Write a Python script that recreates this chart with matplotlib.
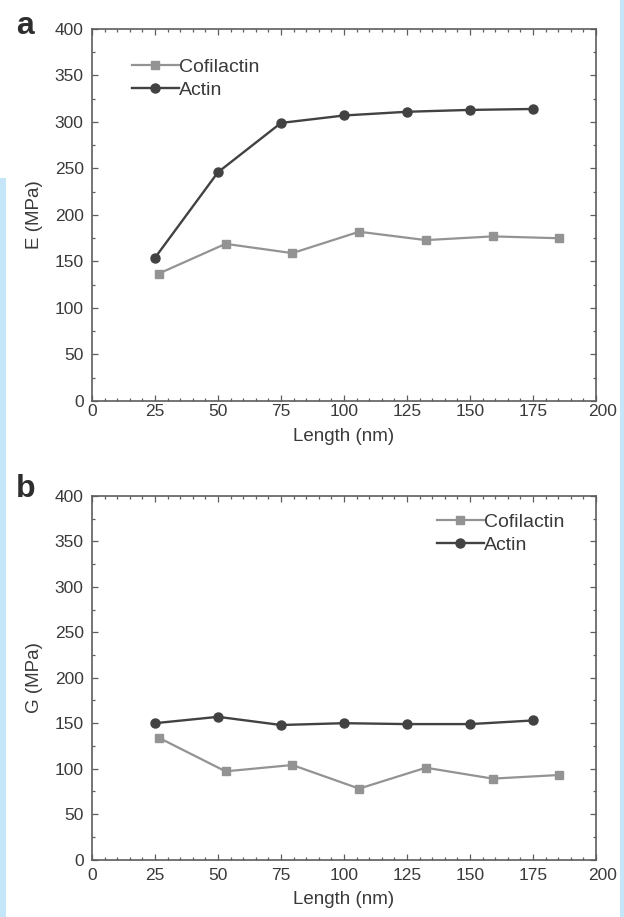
import matplotlib
import matplotlib.pyplot as plt
from matplotlib import patches
import matplotlib.transforms as mtransforms
from matplotlib.ticker import MultipleLocator

matplotlib.use('Agg')
plt.rcParams['font.family'] = ['Liberation Sans', 'DejaVu Sans']

# panel a: Young's modulus
actin_x = [25, 50, 75, 100, 125, 150, 175]
actin_E = [154, 246, 299, 307, 311, 313, 314]
cofil_x = [26.5, 53, 79.5, 106, 132.5, 159, 185.5]
cofil_E = [137, 169, 159, 182, 173, 177, 175]

# panel b: shear modulus
actin_G = [150, 157, 148, 150, 149, 149, 153]
cofil_G = [134, 97, 104, 78, 101, 89, 93]

x_ticks = [0, 25, 50, 75, 100, 125, 150, 175, 200]
y_ticks = [0, 50, 100, 150, 200, 250, 300, 350, 400]

W, H = 624, 917
fig = plt.figure(figsize=(W / 100, H / 100), dpi=100)

# light blue page edges
fig.add_artist(patches.Rectangle((0, 0), 6 / W, 1 - 178 / H, transform=fig.transFigure,
                                 facecolor='#c4e6f8', edgecolor='none'))
fig.add_artist(patches.Rectangle((620 / W, 0), 4 / W, 1, transform=fig.transFigure,
                                 facecolor='#c4e6f8', edgecolor='none'))

txt = '#3a3a3a'
frame = '#5e5e5e'
dark = '#424242'
light = '#939393'


def shift(label, dx, dy):
    # nudge a tick label by a few pixels
    label.set_transform(label.get_transform() +
                        mtransforms.ScaledTranslation(dx / 100, dy / 100, fig.dpi_scale_trans))


def panel(rect, ye, yc, ylab, letter, lpos, legloc, legxy, xpad):
    ax = fig.add_axes(rect)
    ax.plot(cofil_x, yc, '-s', color=light, lw=1.6, ms=5.5, label='Cofilactin')
    ax.plot(actin_x, ye, '-o', color=dark, lw=1.7, ms=6.5, label='Actin')
    ax.set_xlim(0, 200)
    ax.set_ylim(0, 400)
    ax.set_xticks(x_ticks)
    ax.set_yticks(y_ticks)
    ax.xaxis.set_minor_locator(MultipleLocator(5))
    ax.yaxis.set_minor_locator(MultipleLocator(25))
    ax.tick_params(which='both', direction='in', top=True, right=True,
                   color=frame, width=0.9, labelcolor=txt, labelsize=12.5)
    ax.tick_params(which='major', length=4)
    ax.tick_params(which='minor', length=2.2)
    ax.tick_params(axis='x', pad=xpad)
    ax.tick_params(axis='y', pad=6)
    for s in ax.spines.values():
        s.set_color(frame)
        s.set_linewidth(1.2)
    ax.set_xlabel('Length (nm)', fontsize=13.5, color=txt, labelpad=6)
    ax.set_ylabel(ylab, fontsize=13.5, color=txt, labelpad=8)
    leg = ax.legend(loc=legloc, bbox_to_anchor=(legxy[0] / W, 1 - legxy[1] / H),
                    bbox_transform=fig.transFigure, frameon=False, fontsize=14,
                    handlelength=2.4, handletextpad=0.0, labelspacing=0.3,
                    borderpad=0, borderaxespad=0)
    for t in leg.get_texts():
        t.set_color(txt)
    shift(ax.xaxis.get_major_ticks()[-1].label1, 7, 0)
    fig.text(lpos[0] / W, 1 - lpos[1] / H, letter, fontsize=23, fontweight='bold',
             color='#2e2e2e')
    return ax


panel([92 / W, 1 - 401 / H, 504 / W, 372 / H], actin_E, cofil_E, 'E (MPa)', 'a',
      (16, 34), 'upper left', (132, 58), 2.5)
panel([92 / W, 1 - 859.5 / H, 504 / W, 363.5 / H], actin_G, cofil_G, 'G (MPa)', 'b',
      (16, 497), 'upper right', (564, 513), 6)

fig.savefig('out.png', dpi=100)
